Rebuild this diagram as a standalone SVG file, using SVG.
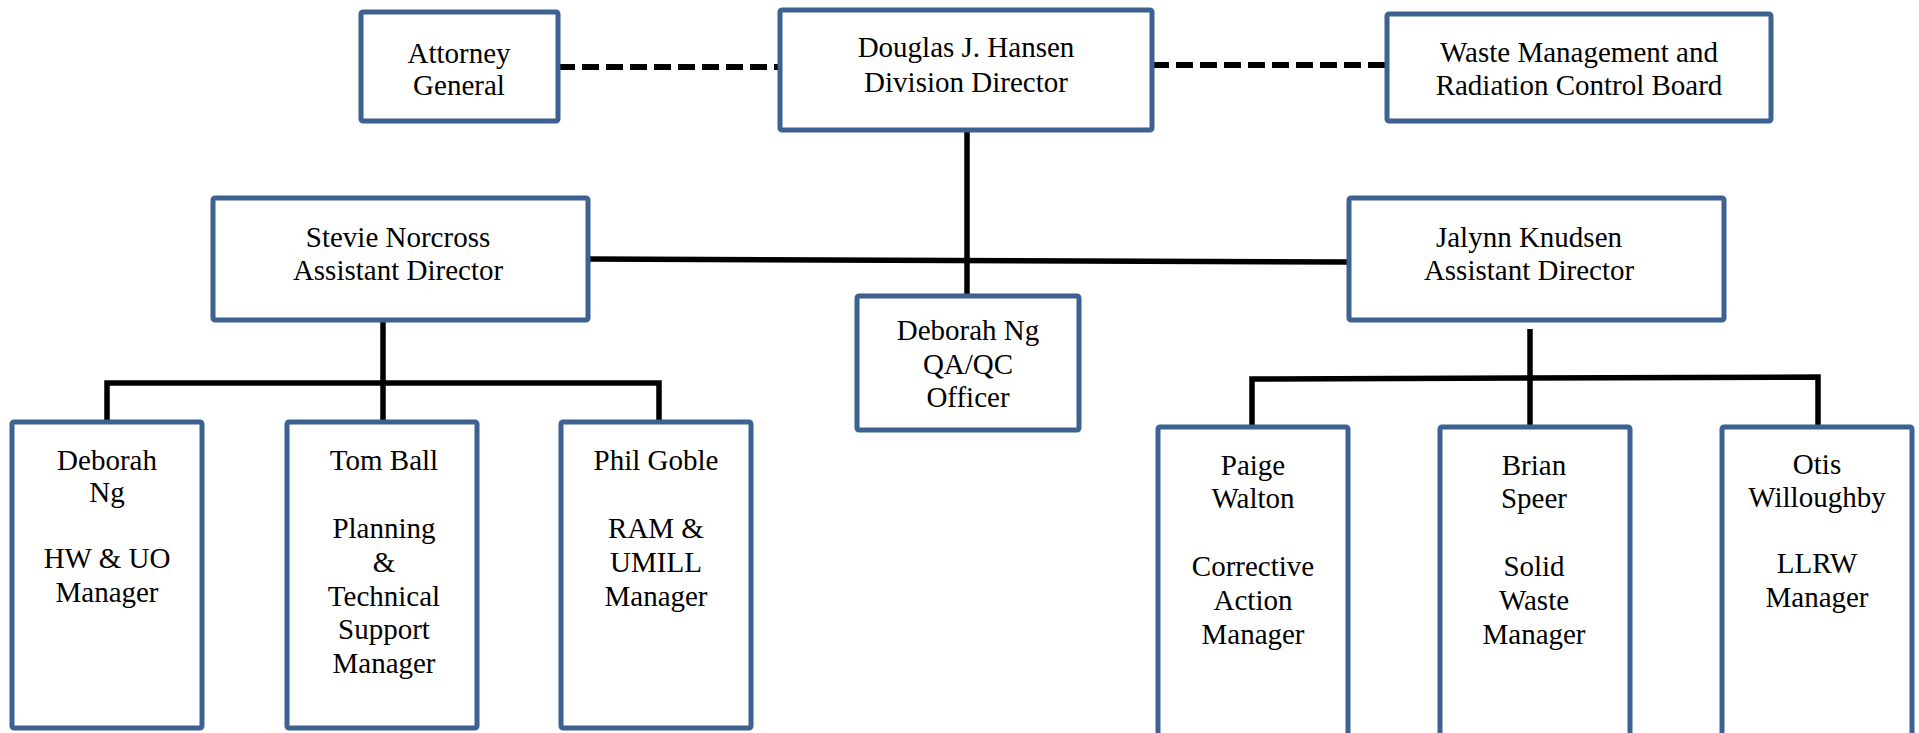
<svg xmlns="http://www.w3.org/2000/svg" width="1919" height="733" viewBox="0 0 1919 733">
<style>
.box{fill:#ffffff;stroke:#3d6190;stroke-width:5}
.t{font-family:'Times New Roman','Liberation Serif','DejaVu Serif','Noto Serif',serif;font-size:29px;fill:#000;text-anchor:middle}
.c{fill:none;stroke:#000;stroke-width:5.5}
.d{fill:none;stroke:#000;stroke-width:6;stroke-dasharray:17 7}
</style>
<rect width="1919" height="733" fill="#ffffff"/>
<g id="connectors">
<path class="d" d="M558 67 H780"/>
<path class="d" d="M1152 65 H1387"/>
<path class="c" d="M967 130 V296"/>
<path class="c" d="M588 259 L1349 262"/>
<path class="c" d="M383 320 V422"/>
<path class="c" d="M107 422 V383 H659 V422"/>
<path class="c" d="M1530 329 V427"/>
<path class="c" d="M1252 427 V379 L1818 377 V427"/>
</g>
<g id="nodes">
<g id="attorney"><rect class="box" x="361" y="12" width="197" height="109" rx="2"/>
<text class="t" x="459" y="63">Attorney</text><text class="t" x="459" y="95">General</text></g>
<g id="douglas"><rect class="box" x="780" y="10" width="372" height="120" rx="2"/>
<text class="t" x="966" y="57">Douglas J. Hansen</text><text class="t" x="966" y="92">Division Director</text></g>
<g id="waste"><rect class="box" x="1387" y="14" width="384" height="107" rx="2"/>
<text class="t" x="1579" y="62">Waste Management and</text><text class="t" x="1579" y="95">Radiation Control Board</text></g>
<g id="stevie"><rect class="box" x="213" y="198" width="375" height="122" rx="2"/>
<text class="t" x="398" y="247">Stevie Norcross</text><text class="t" x="398" y="280">Assistant Director</text></g>
<g id="jalynn"><rect class="box" x="1349" y="198" width="375" height="122" rx="2"/>
<text class="t" x="1529" y="247">Jalynn Knudsen</text><text class="t" x="1529" y="280">Assistant Director</text></g>
<g id="qa"><rect class="box" x="857" y="296" width="222" height="134" rx="2"/>
<text class="t" x="968" y="340">Deborah Ng</text><text class="t" x="968" y="374">QA/QC</text><text class="t" x="968" y="407">Officer</text></g>
<g id="deborah"><rect class="box" x="12" y="422" width="190" height="306" rx="2"/>
<text class="t" x="107" y="470">Deborah</text><text class="t" x="107" y="502">Ng</text><text class="t" x="107" y="568">HW &amp; UO</text><text class="t" x="107" y="602">Manager</text></g>
<g id="tom"><rect class="box" x="287" y="422" width="190" height="306" rx="2"/>
<text class="t" x="384" y="470">Tom Ball</text><text class="t" x="384" y="538">Planning</text><text class="t" x="384" y="572">&amp;</text><text class="t" x="384" y="606">Technical</text><text class="t" x="384" y="639">Support</text><text class="t" x="384" y="673">Manager</text></g>
<g id="phil"><rect class="box" x="561" y="422" width="190" height="306" rx="2"/>
<text class="t" x="656" y="470">Phil Goble</text><text class="t" x="656" y="538">RAM &amp;</text><text class="t" x="656" y="572">UMILL</text><text class="t" x="656" y="606">Manager</text></g>
<g id="paige"><rect class="box" x="1158" y="427" width="190" height="316" rx="2"/>
<text class="t" x="1253" y="475">Paige</text><text class="t" x="1253" y="508">Walton</text><text class="t" x="1253" y="576">Corrective</text><text class="t" x="1253" y="610">Action</text><text class="t" x="1253" y="644">Manager</text></g>
<g id="brian"><rect class="box" x="1440" y="427" width="190" height="316" rx="2"/>
<text class="t" x="1534" y="475">Brian</text><text class="t" x="1534" y="508">Speer</text><text class="t" x="1534" y="576">Solid</text><text class="t" x="1534" y="610">Waste</text><text class="t" x="1534" y="644">Manager</text></g>
<g id="otis"><rect class="box" x="1722" y="427" width="190" height="316" rx="2"/>
<text class="t" x="1817" y="474">Otis</text><text class="t" x="1817" y="507">Willoughby</text><text class="t" x="1817" y="573">LLRW</text><text class="t" x="1817" y="607">Manager</text></g>
</g>
</svg>
